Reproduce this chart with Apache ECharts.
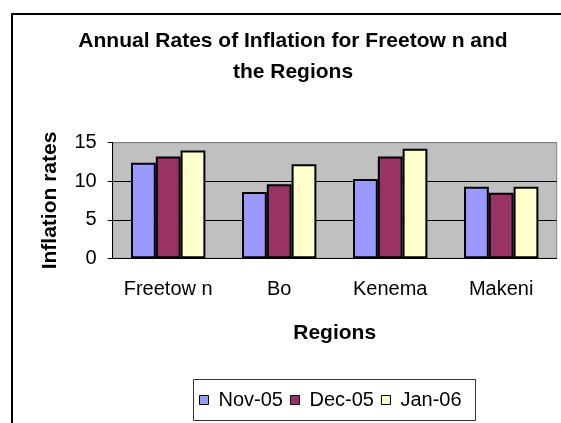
<!DOCTYPE html>
<html>
<head>
<meta charset="UTF-8">
<title>Annual Rates of Inflation</title>
<script type="text/javascript" src="https://cdn.jsdelivr.net/npm/echarts@6/dist/echarts.min.js"></script>
</head>
<body style="margin:0">
	<div id="main" style="height:423px;width:561px"></div>
<script type="text/javascript">
var regions = ['Freetow n', 'Bo', 'Kenema', 'Makeni'];
var nov05 = [12.4, 8.6, 10.3, 9.3];
var dec05 = [13.2, 9.6, 13.2, 8.5];
var jan06 = [14.0, 12.2, 14.2, 9.3];
var yTicks = [0, 5, 10, 15];

var font = '"Liberation Sans", Arial, sans-serif';
var myChart = echarts.init(document.getElementById('main'));

function barSeries(name, data, color) {
  return {
    name: name,
    type: 'bar',
    data: data,
    barGap: 0,
    barCategoryGap: '33%',
    itemStyle: { color: color, borderColor: '#000', borderWidth: 2 }
  };
}

option = {
  animation: false,
  title: {
    text: 'Annual Rates of Inflation for Freetow n and\nthe Regions',
    left: 293,
    top: 26,
    padding: 0,
    textAlign: 'center',
    textStyle: { fontFamily: font, fontSize: 21, fontWeight: 'bold', color: '#000', lineHeight: 31 }
  },
  graphic: [
    { type: 'rect', shape: { x: 12, y: 14, width: 600, height: 500 },
      style: { fill: 'none', stroke: '#000', lineWidth: 2 }, z: 100 },
    { type: 'rect', shape: { x: 193.5, y: 379.5, width: 282, height: 41 },
      style: { fill: 'none', stroke: '#333', lineWidth: 1 }, z: 100 }
  ],
  legend: {
    left: 199,
    top: 390,
    padding: 0,
    itemWidth: 9,
    itemHeight: 9,
    itemGap: 7,
    icon: 'rect',
    itemStyle: { borderColor: '#000', borderWidth: 1 },
    textStyle: { fontFamily: font, fontSize: 20, color: '#000', padding: [0, 0, 0, 5] },
    data: ['Nov-05', 'Dec-05', 'Jan-06']
  },
  grid: {
    left: 112.7,
    top: 142.7,
    right: 4.3,
    bottom: 164.7,
    show: true,
    backgroundColor: '#C0C0C0',
    borderColor: '#808080',
    borderWidth: 1
  },
  xAxis: {
    type: 'category',
    data: regions,
    name: 'Regions',
    nameLocation: 'middle',
    nameGap: 64,
    nameTextStyle: { fontFamily: font, fontSize: 21, fontWeight: 'bold', color: '#000' },
    axisLine: { lineStyle: { color: '#000', width: 1 } },
    axisTick: { length: 6, lineStyle: { color: '#000' } },
    axisLabel: { interval: 0, fontFamily: font, fontSize: 20, color: '#000', margin: 21 }
  },
  yAxis: {
    type: 'value',
    min: yTicks[0],
    max: yTicks[yTicks.length - 1],
    interval: 5,
    name: 'Inflation rates',
    nameLocation: 'middle',
    nameGap: 52,
    nameTextStyle: { fontFamily: font, fontSize: 21, fontWeight: 'bold', color: '#000' },
    axisLine: { show: true, lineStyle: { color: '#000', width: 1 } },
    axisTick: { show: true, length: 5, lineStyle: { color: '#000' } },
    axisLabel: { fontFamily: font, fontSize: 20, color: '#000', margin: 16 },
    splitLine: { lineStyle: { color: ['#000', '#000', '#000', '#808080'], width: 1 } }
  },
  series: [
    barSeries('Nov-05', nov05, '#9999FF'),
    barSeries('Dec-05', dec05, '#993366'),
    barSeries('Jan-06', jan06, '#FFFFCC')
  ]
};
myChart.setOption(option);
</script>
</body>
</html>
